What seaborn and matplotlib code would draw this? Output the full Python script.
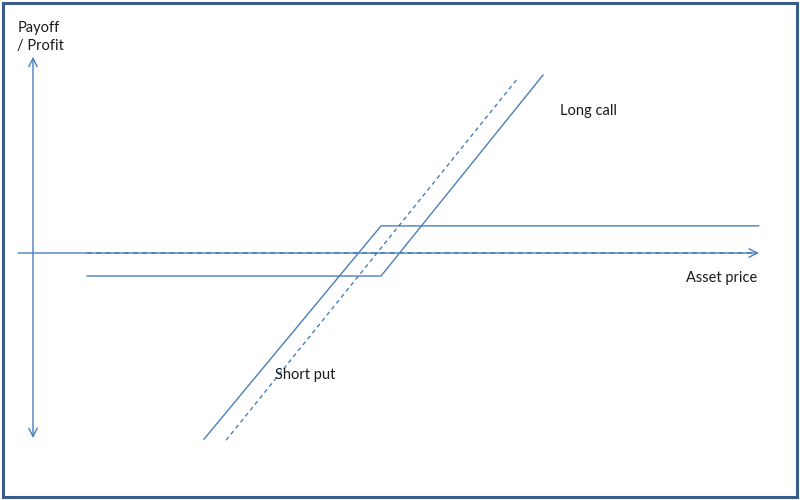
import matplotlib
matplotlib.use('Agg')
import matplotlib.pyplot as plt
from matplotlib.patches import Rectangle
import seaborn as sns

# vertices (asset price, payoff)
call_price = [15.5, 100, 146.6]
call_payoff = [-5.35, -5.35, 41.4]

put_price = [49.1, 100, 208.6]
put_payoff = [-43.3, 6.3, 6.3]

fwd_price = [55.5, 139.4]
fwd_payoff = [-43.5, 40.7]

flat_price = [15.5, 207.5]
flat_payoff = [0, 0]

labels = {'Long call': (151.5, 32.9), 'Short put': (69.5, -28.4), 'Asset price': (187.5, -5.8)}

line_col = '#4A7EBB'
text_col = '#1a1a1a'

sns.set_style('white')
plt.rcParams['font.family'] = ['Lato', 'DejaVu Sans']

fig = plt.figure(figsize=(8, 5), dpi=100)
ax = fig.add_axes([0, 0, 1, 1])
ax.set_xlim(-9.48, 220.4)
ax.set_ylim(-57.4, 58.8)
ax.axis('off')

# axes arrows
ax.annotate('', xy=(208.6, 0), xytext=(-4.3, 0),
            arrowprops=dict(arrowstyle='->,head_length=0.6,head_width=0.3', color=line_col,
                            lw=1, mutation_scale=10, shrinkA=0, shrinkB=0))
ax.annotate('', xy=(0, 45.6), xytext=(0, -43.0),
            arrowprops=dict(arrowstyle='<->,head_length=0.6,head_width=0.3', color=line_col,
                            lw=1, mutation_scale=10, shrinkA=0, shrinkB=0))

sns.lineplot(x=call_price, y=call_payoff, ax=ax, color=line_col, lw=1, sort=False)
sns.lineplot(x=put_price, y=put_payoff, ax=ax, color=line_col, lw=1, sort=False)
sns.lineplot(x=fwd_price, y=fwd_payoff, ax=ax, color=line_col, lw=1, sort=False,
             linestyle=(0, (3, 2.5)))
sns.lineplot(x=flat_price, y=flat_payoff, ax=ax, color=line_col, lw=1.2, sort=False,
             linestyle=(0, (3, 2.5)))

for txt, (px, py) in labels.items():
    ax.text(px, py, txt, fontsize=10.5, color=text_col, va='center', ha='left')

ax.text(-4.5, 54.0, 'Payoff\n/ Profit', fontsize=10.5, color=text_col, va='top', ha='left',
        linespacing=1.35)

fig.patches.append(Rectangle((0.004, 0.006), 0.992, 0.988, transform=fig.transFigure,
                             fill=False, edgecolor='#385D8A', lw=2.2))

fig.savefig('out.png', dpi=100)
